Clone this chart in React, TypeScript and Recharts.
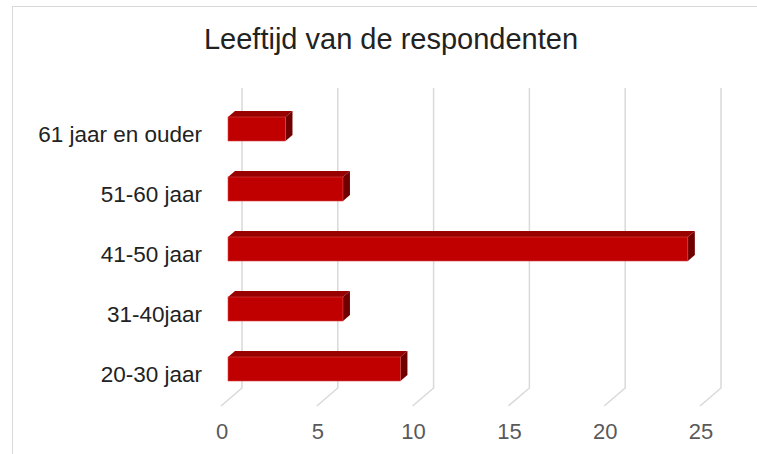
import React from "react";
import { BarChart, Bar, XAxis, YAxis, CartesianGrid } from "recharts";

const categories = ["61 jaar en ouder", "51-60 jaar", "41-50 jaar", "31-40jaar", "20-30 jaar"];
const counts = [3, 6, 24, 6, 9];
const xTicks = [0, 5, 10, 15, 20, 25];

const data = categories.map((name, i) => ({ name, value: counts[i] }));

const FONT = "'Liberation Sans', Arial, sans-serif";

// 3D box: front face + top face + right side
const Bar3D = (props: any) => {
    const { x, y, width, height } = props;
    if (!width || width <= 0) return null;
    const dx = 7;
    const dy = 6;
    return (
        <g>
            <polygon
                points={`${x},${y} ${x + dx},${y - dy} ${x + width + dx},${y - dy} ${x + width},${y}`}
                fill="#990000"
            />
            <polygon
                points={`${x + width},${y} ${x + width + dx},${y - dy} ${x + width + dx},${y + height - dy} ${x + width},${y + height}`}
                fill="#700000"
            />
            <rect x={x} y={y} width={width} height={height} fill="#C00000" stroke="#d64545" strokeWidth={0.6} />
        </g>
    );
};

// back-wall gridline with a slanted foot towards the front
const GridLine = (props: any) => {
    const { x1, y1, y2 } = props;
    const bx = x1 + 14;
    return (
        <g key={props.key}>
            <polyline
                points={`${bx},${y1 - 11} ${bx},${y2 - 11} ${x1 - 7},${y2 + 7}`}
                fill="none"
                stroke="#d9d9d9"
                strokeWidth={1.5}
            />
        </g>
    );
};

const XTick = (props: any) => {
    const { x, y, payload } = props;
    return (
        <text x={x - 6} y={y + 40} textAnchor="middle" fill="#595959" fontSize={22} fontFamily={FONT}>
            {payload.value}
        </text>
    );
};

const YTick = (props: any) => {
    const { x, y, payload } = props;
    return (
        <text x={x} y={y + 13} textAnchor="end" fill="#222222" fontSize={22.5} fontFamily={FONT}>
            {payload.value}
        </text>
    );
};

export default function App() {
    return (
        <div style={{ position: "absolute", left: 0, top: 0, width: 757, height: 454, overflow: "hidden", background: "#fff" }}>
            <div
                style={{
                    position: "absolute",
                    left: 12,
                    top: 6,
                    width: 800,
                    height: 500,
                    border: "1.5px solid #d9d9d9",
                }}
            />
            <div
                style={{
                    position: "absolute",
                    left: 0,
                    top: 23,
                    width: 782,
                    textAlign: "center",
                    fontFamily: FONT,
                    fontSize: 29,
                    color: "#222222",
                    whiteSpace: "nowrap",
                }}
            >
                Leeftijd van de respondenten
            </div>
            <div style={{ position: "absolute", left: 0, top: 0 }}>
                <BarChart
                    width={757}
                    height={454}
                    data={data}
                    layout="vertical"
                    margin={{ top: 99, right: 50, left: 0, bottom: 0 }}
                    barCategoryGap={18}
                >
                    <CartesianGrid horizontal={false} vertical={GridLine} />
                    <XAxis
                        type="number"
                        domain={[0, 25]}
                        ticks={xTicks}
                        axisLine={false}
                        tickLine={false}
                        tickSize={0}
                        tickMargin={0}
                        height={55}
                        tick={XTick}
                        interval={0}
                    />
                    <YAxis
                        type="category"
                        dataKey="name"
                        width={228}
                        axisLine={false}
                        tickLine={false}
                        tickSize={0}
                        tickMargin={26}
                        tick={YTick}
                        interval={0}
                    />
                    <Bar dataKey="value" barSize={24} shape={Bar3D} isAnimationActive={false} />
                </BarChart>
            </div>
        </div>
    );
}
